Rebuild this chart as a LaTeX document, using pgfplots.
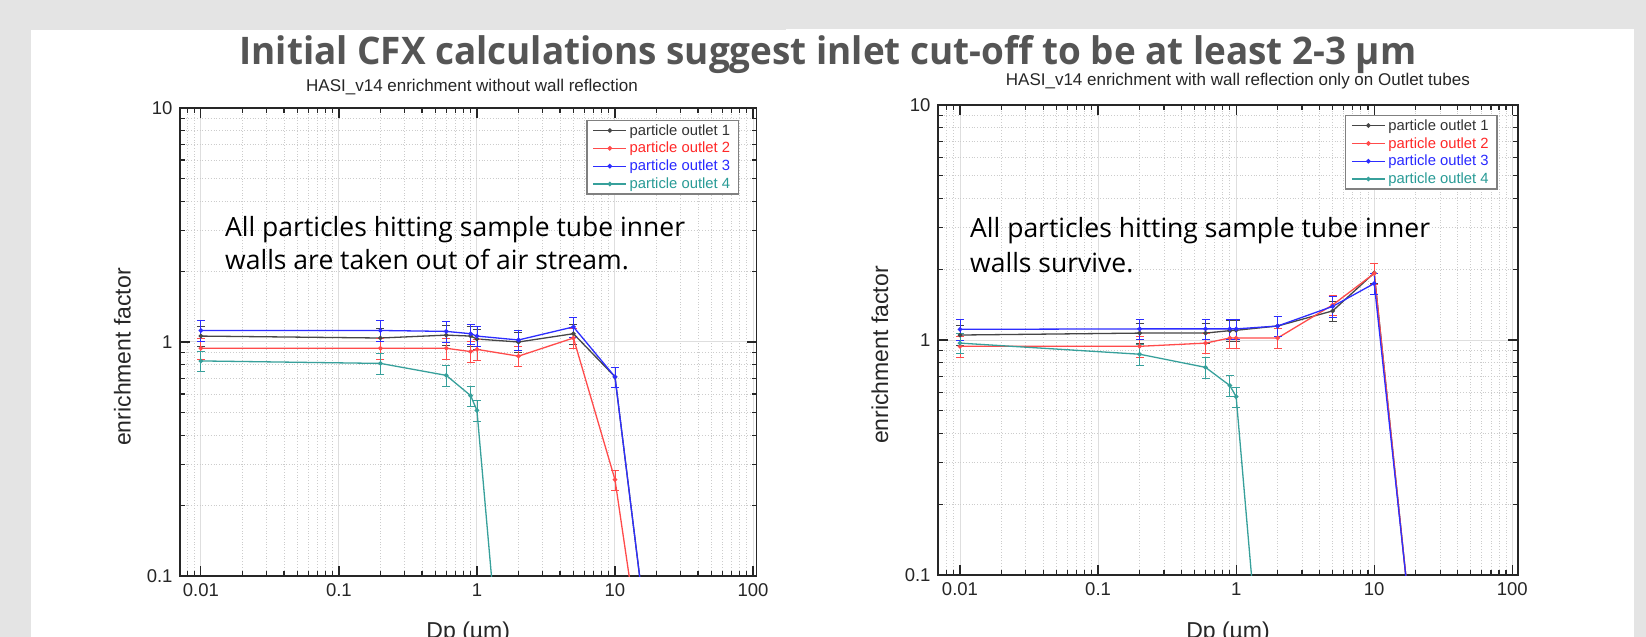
\documentclass[border=0pt]{standalone}
\usepackage{pgfplots}
\pgfplotsset{compat=1.18}
\usepackage{pgfplotstable}
\usepackage{fontspec}
\setmainfont{Liberation Sans}
\newfontfamily\titlefont[FakeStretch=0.97]{Open Sans}
\newfontfamily\notefont{Open Sans}

\definecolor{bg}{RGB}{228,228,228}
\definecolor{ttl}{RGB}{85,85,85}
\definecolor{c1}{RGB}{70,70,70}
\definecolor{c2}{RGB}{255,75,75}
\definecolor{c3}{RGB}{45,45,255}
\definecolor{c4}{RGB}{55,160,155}
\definecolor{t1}{RGB}{50,50,50}
\definecolor{t2}{RGB}{255,40,40}
\definecolor{t3}{RGB}{40,40,255}
\definecolor{t4}{RGB}{40,155,150}

% left panel: no wall reflection
\pgfplotstableread{
x y e
0.01 1.06 0.106
0.2 1.04 0.104
0.6 1.07 0.107
0.9 1.06 0.106
1 1.03 0.103
2 1.00 0.100
5 1.085 0.108
10 0.71 0.071
20 0.026 0
}\lA
\pgfplotstableread{
x y e
0.01 0.94 0.094
0.2 0.94 0.094
0.6 0.94 0.094
0.9 0.91 0.091
1 0.93 0.093
2 0.87 0.087
5 1.04 0.104
10 0.258 0.026
20 0.016 0
}\lB
\pgfplotstableread{
x y e
0.01 1.12 0.112
0.2 1.12 0.112
0.6 1.11 0.111
0.9 1.085 0.108
1 1.06 0.106
2 1.02 0.102
5 1.16 0.116
10 0.71 0.071
20 0.026 0
}\lC
\pgfplotstableread{
x y e
0.01 0.83 0.083
0.2 0.81 0.081
0.6 0.72 0.072
0.9 0.59 0.059
1 0.51 0.051
2 0.0048 0
}\lD

% right panel: reflection on outlet tubes
\pgfplotstableread{
x y e
0.01 1.05 0.105
0.2 1.07 0.107
0.6 1.07 0.107
0.9 1.096 0.11
1 1.10 0.11
2 1.147 0.115
5 1.33 0.133
10 1.93 0.193
20 0.039 0
}\rA
\pgfplotstableread{
x y e
0.01 0.94 0.094
0.2 0.94 0.094
0.6 0.97 0.097
0.9 1.02 0.102
1 1.02 0.102
2 1.02 0.102
5 1.41 0.141
10 1.92 0.192
20 0.039 0
}\rB
\pgfplotstableread{
x y e
0.01 1.11 0.111
0.2 1.115 0.112
0.6 1.115 0.112
0.9 1.115 0.112
1 1.115 0.112
2 1.147 0.115
5 1.39 0.139
10 1.74 0.174
20 0.040 0
}\rC
\pgfplotstableread{
x y e
0.01 0.97 0.097
0.2 0.87 0.087
0.6 0.765 0.077
0.9 0.64 0.064
1 0.574 0.057
2 0.005 0
}\rD

\begin{document}
\begin{tikzpicture}
\useasboundingbox (0,0) rectangle (1646bp,637bp);
\fill[bg] (0,0) rectangle (1646bp,637bp);
\fill[white] (31bp,0) rectangle (786bp,607bp);
\fill[white] (786bp,0) rectangle (1634bp,608bp);

\begin{loglogaxis}[
  scale only axis,
  at={(180bp,61bp)}, anchor=south west,
  width=576.5bp, height=468bp,
  xmin=0.00706, xmax=106, ymin=0.1, ymax=10,
  xtick={0.01,0.1,1,10,100},
  xticklabels={0.01,0.1,1,10,100},
  ytick={0.1,1,10},
  yticklabels={0.1,1,10},
  minor xtick={0.008,0.009,0.02,0.03,0.04,0.05,0.06,0.07,0.08,0.09,0.2,0.3,0.4,0.5,0.6,0.7,0.8,0.9,2,3,4,5,6,7,8,9,20,30,40,50,60,70,80,90},
  minor ytick={0.2,0.3,0.4,0.5,0.6,0.7,0.8,0.9,2,3,4,5,6,7,8,9},
  grid=both,
  major grid style={line width=1bp, draw=black!13},
  minor grid style={line width=0.8bp, draw=black!20, dotted},
  axis line style={line width=1.5bp, draw=black!85},
  tick align=inside,
  major tick length=10bp, minor tick length=5bp,
  tick style={line width=1.2bp, draw=black!85},
  ticklabel style={font=\fontsize{18.5bp}{22bp}\selectfont, text=black!85},
  xticklabel style={yshift=-4bp},
  yticklabel style={xshift=-4bp},
  label style={font=\fontsize{23bp}{27bp}\selectfont, text=black!85},
  xlabel={Dp (µm)},
  ylabel={enrichment factor},
  xlabel style={at={(axis description cs:0.5,-0.1333)}, anchor=base},
  ylabel style={at={(axis description cs:-0.0997,0.468)}, anchor=center},
  title={HASI\_v14 enrichment without wall reflection},
  title style={font=\fontsize{17bp}{20bp}\selectfont, text=black!85, at={(axis description cs:0.5065,1.0229)}, anchor=base, yshift=0pt},
  legend cell align=left,
  legend style={draw=black!50, line width=1.3bp, font=\fontsize{14.8bp}{18bp}\selectfont,
    at={(axis description cs:0.705,0.9744)}, anchor=north west, inner xsep=5.6bp, inner ysep=1bp,
    nodes={inner xsep=2.75bp, inner ysep=2.8bp}},
  legend image code/.code={\draw[mark repeat=2,mark phase=2,#1] plot coordinates {(0bp,0bp) (16.5bp,0bp) (33bp,0bp)};},
]
\addplot[c1, line width=1.3bp, mark=*, mark size=1.6bp, mark options={fill=c1}, error bars/.cd, y dir=both, y explicit, error bar style={line width=0.8bp}, error mark options={rotate=90, mark size=4bp, line width=0.8bp, c1}] table[x=x,y=y,y error=e] {\lA};
\addlegendentry{\textcolor{t1}{particle outlet 1}}
\addplot[c2, line width=1.3bp, mark=*, mark size=1.6bp, mark options={fill=c2}, error bars/.cd, y dir=both, y explicit, error bar style={line width=0.8bp}, error mark options={rotate=90, mark size=4bp, line width=0.8bp, c2}] table[x=x,y=y,y error=e] {\lB};
\addlegendentry{\textcolor{t2}{particle outlet 2}}
\addplot[c3, line width=1.3bp, mark=*, mark size=1.6bp, mark options={fill=c3}, error bars/.cd, y dir=both, y explicit, error bar style={line width=0.8bp}, error mark options={rotate=90, mark size=4bp, line width=0.8bp, c3}] table[x=x,y=y,y error=e] {\lC};
\addlegendentry{\textcolor{t3}{particle outlet 3}}
\addplot[c4, line width=1.3bp, mark=*, mark size=1.6bp, mark options={fill=c4}, error bars/.cd, y dir=both, y explicit, error bar style={line width=0.8bp}, error mark options={rotate=90, mark size=4bp, line width=0.8bp, c4}] table[x=x,y=y,y error=e] {\lD};
\addlegendentry{\textcolor{t4}{particle outlet 4}}
\end{loglogaxis}

\begin{loglogaxis}[
  scale only axis,
  at={(938bp,62bp)}, anchor=south west,
  width=580bp, height=470bp,
  xmin=0.00693, xmax=110, ymin=0.1, ymax=10,
  xtick={0.01,0.1,1,10,100},
  xticklabels={0.01,0.1,1,10,100},
  ytick={0.1,1,10},
  yticklabels={0.1,1,10},
  minor xtick={0.008,0.009,0.02,0.03,0.04,0.05,0.06,0.07,0.08,0.09,0.2,0.3,0.4,0.5,0.6,0.7,0.8,0.9,2,3,4,5,6,7,8,9,20,30,40,50,60,70,80,90},
  minor ytick={0.2,0.3,0.4,0.5,0.6,0.7,0.8,0.9,2,3,4,5,6,7,8,9},
  grid=both,
  major grid style={line width=1bp, draw=black!13},
  minor grid style={line width=0.8bp, draw=black!20, dotted},
  axis line style={line width=1.5bp, draw=black!85},
  tick align=inside,
  major tick length=10bp, minor tick length=5bp,
  tick style={line width=1.2bp, draw=black!85},
  ticklabel style={font=\fontsize{18.5bp}{22bp}\selectfont, text=black!85},
  xticklabel style={yshift=-4bp},
  yticklabel style={xshift=-4bp},
  label style={font=\fontsize{23bp}{27bp}\selectfont, text=black!85},
  xlabel={Dp (µm)},
  ylabel={enrichment factor},
  xlabel style={at={(axis description cs:0.5,-0.1349)}, anchor=base},
  ylabel style={at={(axis description cs:-0.1,0.468)}, anchor=center},
  title={HASI\_v14 enrichment with wall reflection only on Outlet tubes},
  title style={font=\fontsize{17bp}{20bp}\selectfont, text=black!85, at={(axis description cs:0.517,1.0298)}, anchor=base, yshift=0pt},
  legend cell align=left,
  legend style={draw=black!50, line width=1.3bp, font=\fontsize{14.8bp}{18bp}\selectfont,
    at={(axis description cs:0.7017,0.9787)}, anchor=north west, inner xsep=5.6bp, inner ysep=1bp,
    nodes={inner xsep=2.75bp, inner ysep=2.8bp}},
  legend image code/.code={\draw[mark repeat=2,mark phase=2,#1] plot coordinates {(0bp,0bp) (16.5bp,0bp) (33bp,0bp)};},
]
\addplot[c1, line width=1.3bp, mark=*, mark size=1.6bp, mark options={fill=c1}, error bars/.cd, y dir=both, y explicit, error bar style={line width=0.8bp}, error mark options={rotate=90, mark size=4bp, line width=0.8bp, c1}] table[x=x,y=y,y error=e] {\rA};
\addlegendentry{\textcolor{t1}{particle outlet 1}}
\addplot[c2, line width=1.3bp, mark=*, mark size=1.6bp, mark options={fill=c2}, error bars/.cd, y dir=both, y explicit, error bar style={line width=0.8bp}, error mark options={rotate=90, mark size=4bp, line width=0.8bp, c2}] table[x=x,y=y,y error=e] {\rB};
\addlegendentry{\textcolor{t2}{particle outlet 2}}
\addplot[c3, line width=1.3bp, mark=*, mark size=1.6bp, mark options={fill=c3}, error bars/.cd, y dir=both, y explicit, error bar style={line width=0.8bp}, error mark options={rotate=90, mark size=4bp, line width=0.8bp, c3}] table[x=x,y=y,y error=e] {\rC};
\addlegendentry{\textcolor{t3}{particle outlet 3}}
\addplot[c4, line width=1.3bp, mark=*, mark size=1.6bp, mark options={fill=c4}, error bars/.cd, y dir=both, y explicit, error bar style={line width=0.8bp}, error mark options={rotate=90, mark size=4bp, line width=0.8bp, c4}] table[x=x,y=y,y error=e] {\rD};
\addlegendentry{\textcolor{t4}{particle outlet 4}}
\end{loglogaxis}

\node[anchor=base, text=ttl, font=\titlefont\bfseries\fontsize{38bp}{44bp}\selectfont]
  at (828bp,572bp) {Initial CFX calculations suggest inlet cut-off to be at least 2-3 µm};

\node[anchor=base west, inner sep=0, font=\notefont\fontsize{26.5bp}{30bp}\selectfont] at (225bp,400.3bp) {All particles hitting sample tube inner};
\node[anchor=base west, inner sep=0, font=\notefont\fontsize{26.5bp}{30bp}\selectfont] at (225bp,367bp) {walls are taken out of air stream.};
\node[anchor=base west, inner sep=0, font=\notefont\fontsize{26.5bp}{30bp}\selectfont] at (970bp,399bp) {All particles hitting sample tube inner};
\node[anchor=base west, inner sep=0, font=\notefont\fontsize{26.5bp}{30bp}\selectfont] at (970bp,364.3bp) {walls survive.};
\end{tikzpicture}
\end{document}
